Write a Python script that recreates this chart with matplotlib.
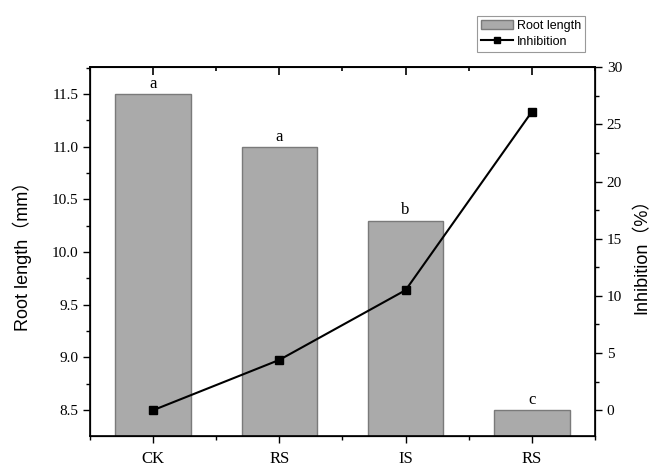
import matplotlib
matplotlib.use("Agg")
import matplotlib.pyplot as plt
from matplotlib.ticker import MultipleLocator
from matplotlib.lines import Line2D
from matplotlib.patches import Patch

# data
groups = ["CK", "RS", "IS", "RS"]
root_length = [11.5, 11.0, 10.3, 8.5]
inhibition = [0.0, 4.4, 10.5, 26.1]
letters = ["a", "a", "b", "c"]

serif = ["Liberation Serif", "DejaVu Serif"]
sans = ["Liberation Sans", "Noto Sans CJK SC", "DejaVu Sans"]

fig = plt.figure(figsize=(6.57, 4.71), dpi=100)
ax = fig.add_axes([0.137, 0.074, 0.7686, 0.7834])
x = list(range(len(groups)))

ax.bar(x, root_length, width=0.6, color="#aaaaaa", edgecolor="#7a7a7a",
       linewidth=1.0, zorder=2)
for xi, h, s in zip(x, root_length, letters):
    ax.text(xi, h + 0.02, s, ha="center", va="bottom", fontsize=12,
            family=serif)

ax.set_xlim(-0.5, 3.5)
ax.set_ylim(8.253, 11.756)
ax.set_xticks(x)
ax.set_xticklabels(groups, family=serif, fontsize=12)
ax.xaxis.set_minor_locator(MultipleLocator(0.5))
ax.yaxis.set_major_locator(MultipleLocator(0.5))
ax.yaxis.set_minor_locator(MultipleLocator(0.25))
ax.tick_params(axis="y", which="major", direction="out", length=5, width=1,
               labelsize=11)
ax.tick_params(axis="y", which="minor", direction="out", length=3, width=1)
ax.tick_params(axis="x", which="major", direction="out", length=5, width=1,
               pad=6)
ax.tick_params(axis="x", which="minor", direction="out", length=3, width=1)
for lab in ax.get_yticklabels():
    lab.set_family(serif)
ax.set_ylabel("Root length（mm）", family=sans, fontsize=13, labelpad=14)
for sp in ax.spines.values():
    sp.set_linewidth(1.2)

ax2 = ax.twinx()
ax2.plot(x, inhibition, color="black", linewidth=1.5, marker="s",
         markersize=6, zorder=3)
ax2.set_ylim(-2.27, 30)
ax2.yaxis.set_major_locator(MultipleLocator(5))
ax2.yaxis.set_minor_locator(MultipleLocator(2.5))
ax2.tick_params(axis="y", which="major", direction="out", length=5, width=1,
                labelsize=11)
ax2.tick_params(axis="y", which="minor", direction="out", length=3, width=1)
for lab in ax2.get_yticklabels():
    lab.set_family(serif)
ax2.set_ylabel("Inhibition（%）", family=sans, fontsize=13, labelpad=8)

# top ticks point inward on the reference
ax3 = ax.twiny()
ax3.set_xlim(ax.get_xlim())
ax3.set_xticks(x)
ax3.xaxis.set_minor_locator(MultipleLocator(0.5))
ax3.tick_params(axis="x", which="major", direction="in", length=6, width=1.2,
                labeltop=False)
ax3.tick_params(axis="x", which="minor", direction="in", length=3, width=1.2)
ax3.spines["top"].set_linewidth(1.2)

handles = [Patch(facecolor="#aaaaaa", edgecolor="#7a7a7a"),
           Line2D([], [], color="black", marker="s", markersize=5, linewidth=1.5)]
leg = fig.legend(handles, ["Root length", "Inhibition"], loc="upper right",
                 bbox_to_anchor=(591 / 657, 1 - 10 / 471), frameon=True,
                 fancybox=False, edgecolor="#808080",
                 prop={"family": sans, "size": 9}, handlelength=2.6,
                 borderpad=0.3, labelspacing=0.3, handletextpad=0.3)
leg.get_frame().set_linewidth(0.8)

fig.savefig("out.png", dpi=100)
